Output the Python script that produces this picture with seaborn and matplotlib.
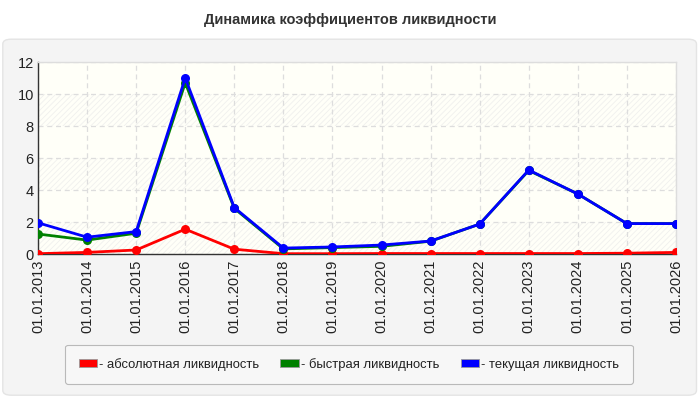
import numpy as np
import pandas as pd
import matplotlib
matplotlib.use("Agg")
import matplotlib.pyplot as plt
import seaborn as sns
from matplotlib.patches import FancyBboxPatch, Patch

years = ["01.01.2013", "01.01.2014", "01.01.2015", "01.01.2016", "01.01.2017",
         "01.01.2018", "01.01.2019", "01.01.2020", "01.01.2021", "01.01.2022",
         "01.01.2023", "01.01.2024", "01.01.2025", "01.01.2026"]
absolute = [0.02, 0.1, 0.25, 1.55, 0.3, 0.02, 0.02, 0.03, 0.03, 0.03, 0.03, 0.03, 0.05, 0.1]
quick = [1.25, 0.87, 1.3, 10.7, 2.85, 0.32, 0.4, 0.48, 0.8, 1.87, 5.22, 3.75, 1.9, 1.9]
current = [1.95, 1.05, 1.4, 11.0, 2.9, 0.37, 0.44, 0.56, 0.81, 1.87, 5.25, 3.75, 1.9, 1.9]
series_names = ["абсолютная ликвидность", "быстрая ликвидность", "текущая ликвидность"]
colors = ["#ff0000", "#008000", "#0000ff"]

sns.set_theme(style="white")
plt.rcParams['font.family'] = ['Liberation Sans', 'DejaVu Sans']
plt.rcParams['hatch.linewidth'] = 0.6

rows = []
for name, vals in zip(series_names, [absolute, quick, current]):
    for i, v in enumerate(vals):
        rows.append({"idx": i, "value": v, "series": name})
df = pd.DataFrame(rows)

fig = plt.figure(figsize=(7, 4), dpi=100)
fig.patch.set_facecolor("white")
panel = FancyBboxPatch((0.004, 0.012), 0.991, 0.89, boxstyle="round,pad=0,rounding_size=0.012",
                       transform=fig.transFigure, facecolor="#f4f4f4", edgecolor="#e4e4e4",
                       linewidth=1, zorder=-10)
fig.patches.append(panel)
fig.text(0.5, 0.95, "Динамика коэффициентов ликвидности", ha="center", va="center",
         fontsize=10.5, fontweight="bold", color="#333333")

ax = fig.add_axes([0.0543, 0.365, 0.9114, 0.48])
ax.set_facecolor("#fffff8")
for k in range(0, 12, 4):
    ax.axhspan(k, k + 2, facecolor="none", edgecolor="#f0f0ee", hatch="//////", linewidth=0, zorder=0)

sns.lineplot(data=df, x="idx", y="value", hue="series", palette=colors, hue_order=series_names,
             marker="o", markersize=6.5, markeredgewidth=0, linewidth=2, ax=ax, legend=False,
             zorder=3)

ax.set_xlim(0, len(years) - 1)
ax.set_ylim(0, 12)
ax.set_yticks(range(0, 13, 2))
ax.set_xticks(range(len(years)))
ax.set_xticklabels(years, rotation=90, fontsize=10.5, color="#222222")
ax.tick_params(axis="y", labelsize=10.5, colors="#222222", length=0, pad=3)
ax.tick_params(axis="x", length=0, pad=4)
ax.set_xlabel("")
ax.set_ylabel("")
ax.grid(True, color="#dddddd", linestyle=(0, (4, 3)), linewidth=0.9)
ax.set_axisbelow(True)
for s in ["top", "right"]:
    ax.spines[s].set_color("#dddddd")
    ax.spines[s].set_linewidth(1)
for s in ["left", "bottom"]:
    ax.spines[s].set_color("#333333")
    ax.spines[s].set_linewidth(1)

handles = [Patch(facecolor=c, edgecolor="#999999", linewidth=0.6) for c in colors]
labels = ["- " + n for n in series_names]
leg = fig.legend(handles, labels, loc="center", bbox_to_anchor=(0.4986, 0.089), ncol=3,
                 fontsize=9.4, frameon=True, fancybox=True, handlelength=1.4, handleheight=0.6,
                 handletextpad=0.2, columnspacing=1.6, borderpad=1.0)
leg.get_frame().set_facecolor("#f8f8f8")
leg.get_frame().set_edgecolor("#aaaaaa")
leg.get_frame().set_linewidth(0.8)
for t in leg.get_texts():
    t.set_color("#222222")

fig.savefig("out.png", dpi=100, facecolor="white")
